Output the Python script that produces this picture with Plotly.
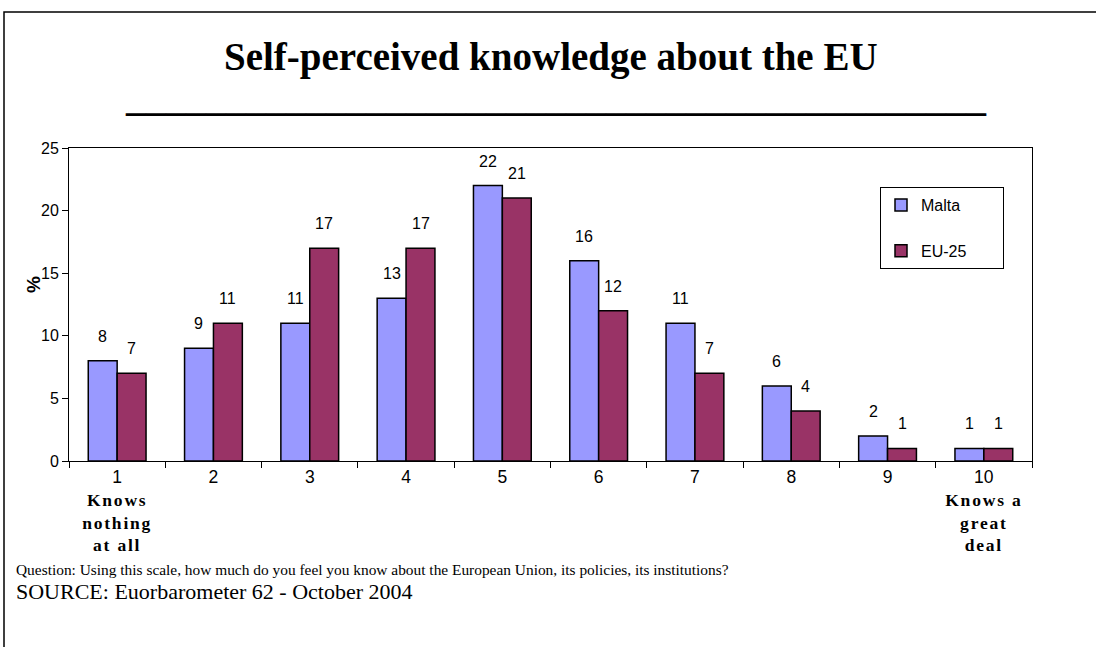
import plotly.graph_objects as go

categories = ["1", "2", "3", "4", "5", "6", "7", "8", "9", "10"]
low_label = ["Knows", "nothing", "at all"]
high_label = ["Knows a", "great", "deal"]
malta = [8, 9, 11, 13, 22, 16, 11, 6, 2, 1]
eu25 = [7, 11, 17, 17, 21, 12, 7, 4, 1, 1]

SERIF = "Liberation Serif, Times New Roman, serif"
SANS = "Arial, Liberation Sans, sans-serif"
PAD = "\u00a0" * 7


def bold_lines(lines):
    return "".join(
        "<br><span style='font-family:Liberation Serif;font-weight:bold;letter-spacing:1.8px'>"
        + ln + "</span>" for ln in lines)


tick_text = list(categories)
tick_text[0] = categories[0] + bold_lines(low_label)
tick_text[-1] = categories[-1] + bold_lines(high_label)

fig = go.Figure()
fig.add_trace(go.Bar(x=categories, y=malta, name="Malta" + PAD, legendgroup="m",
                     marker=dict(color="#9999FF", line=dict(color="black", width=1.5))))
fig.add_trace(go.Bar(x=categories, y=eu25, name="EU-25" + PAD, legendgroup="e",
                     marker=dict(color="#993366", line=dict(color="black", width=1.5))))

for vals, shift in ((malta, -14.5), (eu25, 14.5)):
    for i, v in enumerate(vals):
        fig.add_annotation(x=i, y=v, text=str(v), showarrow=False, xshift=shift,
                           yshift=14, yanchor="bottom",
                           font=dict(family=SANS, size=16, color="black"))

fig.update_layout(
    width=1096, height=647,
    margin=dict(l=69, r=64, t=148, b=186),
    paper_bgcolor="white", plot_bgcolor="white",
    barmode="group", bargap=0.4, bargroupgap=0,
    font=dict(family=SANS, size=16, color="black"),
    legend=dict(x=(880 - 69) / 963, y=(461 - 187) / 313, xanchor="left", yanchor="top",
                bordercolor="black", borderwidth=1, bgcolor="white",
                font=dict(size=16), traceorder="grouped", tracegroupgap=22,
                itemwidth=30),
    xaxis=dict(type="category", tickmode="array", tickvals=categories, ticktext=tick_text,
               tickson="boundaries", ticks="outside", ticklen=6, tickcolor="black",
               showline=True, linecolor="black", mirror=True, showgrid=False,
               range=[-0.5, 9.5], tickfont=dict(family=SANS, size=17.5)),
    yaxis=dict(range=[0, 25], dtick=5, ticks="outside", ticklen=6, tickcolor="black",
               showline=True, linecolor="black", mirror=True, showgrid=False, zeroline=False,
               tickfont=dict(size=16)),
)

# Y axis title
fig.add_annotation(xref="paper", yref="paper", x=(33 - 69) / 963, y=(461 - 285) / 313,
                   text="<b>%</b>", textangle=-90, showarrow=False,
                   xanchor="center", yanchor="middle",
                   font=dict(family=SANS, size=19, color="black"))

# Title and underline
fig.add_annotation(xref="paper", yref="paper", x=0.5, y=(461 - 57) / 313, yanchor="middle",
                   text="<b>Self-perceived knowledge about the EU</b>", showarrow=False,
                   font=dict(family=SERIF, size=39, color="black"))
fig.add_annotation(xref="paper", yref="paper", x=(556 - 69) / 963, y=(461 - 96) / 313, yanchor="middle",
                   text="<b>" + "_" * 43 + "</b>", showarrow=False,
                   font=dict(family=SERIF, size=40, color="black"))

# Footnotes
fig.add_annotation(xref="paper", yref="paper", x=(14 - 69) / 963, y=(461 - 569) / 313,
                   xanchor="left", yanchor="middle", showarrow=False,
                   text="Question: Using this scale, how much do you feel you know about the European Union, its policies, its institutions?",
                   font=dict(family=SERIF, size=15.4, color="black"))
fig.add_annotation(xref="paper", yref="paper", x=(14 - 69) / 963, y=(461 - 591) / 313,
                   xanchor="left", yanchor="middle", showarrow=False,
                   text="SOURCE: Euorbarometer 62 - October 2004",
                   font=dict(family=SERIF, size=22, color="black"))

# Outer frame
fig.add_shape(type="rect", xref="paper", yref="paper",
              x0=(4 - 69) / 963, x1=(1110 - 69) / 963,
              y0=(461 - 660) / 313, y1=(461 - 12) / 313,
              line=dict(color="black", width=1.5), layer="below")

fig.write_html("out.html", config={"displayModeBar": False},
               post_script="document.body.style.margin='0';")
